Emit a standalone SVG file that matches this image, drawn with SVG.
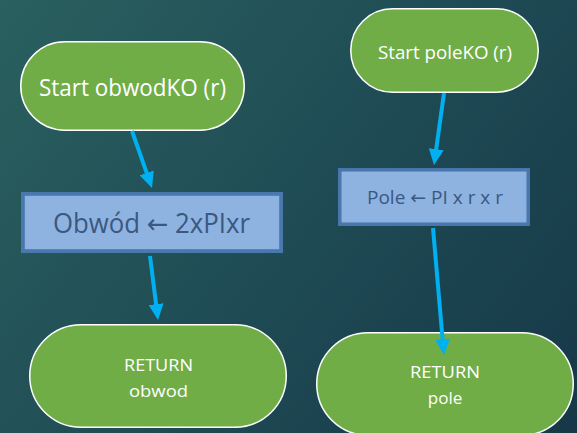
<svg xmlns="http://www.w3.org/2000/svg" width="577" height="433" viewBox="0 0 577 433">
  <defs>
    <linearGradient id="bg" gradientUnits="userSpaceOnUse" x1="0" y1="0" x2="577" y2="433">
      <stop offset="0" stop-color="#2a605f"/>
      <stop offset="0.5" stop-color="#1f4c55"/>
      <stop offset="1" stop-color="#163848"/>
    </linearGradient>
    <marker id="ah" viewBox="0 0 16 15" refX="6" refY="7.5" markerWidth="16" markerHeight="15" markerUnits="userSpaceOnUse" orient="auto">
      <path d="M0,0 L16,7.5 L0,15 Z" fill="#00b0f0"/>
    </marker>
    <style>
      .term { fill: #70ad47; stroke: #ffffff; stroke-width: 1.5; }
      .proc { fill: #8eb3e0; stroke: #4a78ae; stroke-width: 3.8; }
      .tw { fill: #ffffff; font-family: "Open Sans", "Noto Sans", sans-serif; text-anchor: middle; }
      .tb { fill: #3a5881; font-family: "Open Sans", "Noto Sans", sans-serif; text-anchor: middle; }
      .arr { font-family: "DejaVu Sans", sans-serif; }
      .conn { stroke: #00b0f0; stroke-width: 4; fill: none; marker-end: url(#ah); }
    </style>
  </defs>
  <rect x="0" y="0" width="577" height="433" fill="url(#bg)"/>

  <g id="start-obwod">
    <rect class="term" x="20.75" y="41.75" width="223.5" height="88.5" rx="44.25"/>
    <text class="tw" x="132.5" y="96" font-size="23" textLength="187" lengthAdjust="spacingAndGlyphs">Start obwodKO (r)</text>
  </g>
  <g id="calc-obwod">
    <rect class="proc" x="22.9" y="193.9" width="258.2" height="57.2"/>
    <text class="tb" x="151.5" y="232.5" font-size="27" textLength="197" lengthAdjust="spacingAndGlyphs">Obwód <tspan class="arr">←</tspan> 2xPIxr</text>
  </g>
  <g id="return-obwod">
    <rect class="term" x="29.75" y="324.75" width="256.5" height="102.5" rx="51.25"/>
    <text class="tw" x="158.5" y="371" font-size="17" textLength="69" lengthAdjust="spacingAndGlyphs">RETURN</text>
    <text class="tw" x="158.5" y="397" font-size="17" textLength="59" lengthAdjust="spacingAndGlyphs">obwod</text>
  </g>

  <g id="start-pole">
    <rect class="term" x="350.75" y="8.75" width="187.5" height="83.5" rx="41.75"/>
    <text class="tw" x="445" y="58.5" font-size="18.5" textLength="134" lengthAdjust="spacingAndGlyphs">Start poleKO (r)</text>
  </g>
  <g id="calc-pole">
    <rect class="proc" x="339.8" y="169.8" width="188.4" height="54.4" style="stroke-width:3.5"/>
    <text class="tb" x="435" y="204" font-size="18.5" textLength="136" lengthAdjust="spacingAndGlyphs">Pole <tspan class="arr">←</tspan> PI x r x r</text>
  </g>
  <g id="return-pole">
    <rect class="term" x="316.75" y="332.75" width="256.5" height="102.5" rx="51.25"/>
    <text class="tw" x="445" y="377.7" font-size="17" textLength="70" lengthAdjust="spacingAndGlyphs">RETURN</text>
    <text class="tw" x="445" y="404" font-size="17">pole</text>
  </g>

  <g id="connectors">
    <line class="conn" x1="132" y1="131" x2="148.7" y2="178.6"/>
    <line class="conn" x1="150" y1="256" x2="156.8" y2="310.1"/>
    <line class="conn" x1="444" y1="93" x2="435.4" y2="155.1"/>
    <line class="conn" x1="433" y1="228" x2="443.1" y2="345"/>
  </g>
</svg>
